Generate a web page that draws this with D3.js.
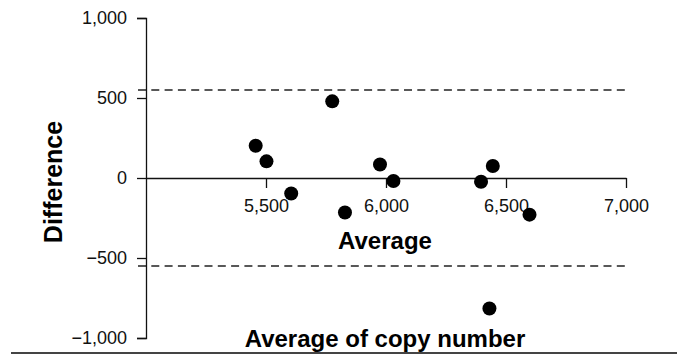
<!DOCTYPE html>
<html>
<head>
<meta charset="utf-8">
<script src="https://cdn.jsdelivr.net/npm/d3@7"></script>
<style>
  body { margin: 0; background: #fff; }
  svg { display: block; font-family: "Liberation Sans", Arial, Helvetica, sans-serif; }
</style>
</head>
<body>
<svg id="chart" width="690" height="356"></svg>
<script>
// Bland-Altman style data: average vs difference of copy number
const averages = [5457, 5502, 5605, 5776, 5829, 5975, 6031, 6396, 6445, 6598, 6431];
const differences = [202, 104, -97, 479, -216, 84, -19, -23, 75, -229, -816];
const limits = [550, -550];
const xTicks = [5500, 6000, 6500, 7000];
const yTicks = [-1000, -500, 0, 500, 1000];

const svg = d3.select("#chart");

const x = d3.scaleLinear().domain([5000, 7000]).range([146, 626]);
const y = d3.scaleLinear().domain([-1000, 1000]).range([338, 18]);

// dashed limits of agreement
svg.append("g")
    .selectAll("line")
    .data(limits)
    .join("line")
    .attr("x1", x(5000) - 8)
    .attr("x2", x(7000))
    .attr("y1", d => y(d))
    .attr("y2", d => y(d))
    .attr("stroke", "#222")
    .attr("stroke-width", 1.3)
    .attr("stroke-dasharray", "8,5.3");

// y axis
const yAxis = svg.append("g")
    .attr("transform", `translate(${x(5000)},0)`)
    .call(d3.axisLeft(y)
        .tickValues(yTicks)
        .tickSize(9)
        .tickPadding(10)
        .tickFormat(d3.format(",")));

// x axis sits on zero
const xAxis = svg.append("g")
    .attr("transform", `translate(0,${y(0)})`)
    .call(d3.axisBottom(x)
        .tickValues(xTicks)
        .tickSize(10)
        .tickSizeOuter(0)
        .tickPadding(11)
        .tickFormat(d3.format(",")));

[yAxis, xAxis].forEach(ax => {
    ax.selectAll("path, line").attr("stroke", "#111").attr("stroke-width", 1.3);
    ax.selectAll("text")
        .attr("font-size", 18)
        .attr("font-family", "'Liberation Sans', Arial, sans-serif")
        .attr("fill", "#111");
});
// use a real minus sign like the reference
yAxis.selectAll("text").text(d => d3.format(",")(d).replace("-", "\u2212"));

// points
svg.append("g")
    .selectAll("circle")
    .data(averages.map((a, i) => [a, differences[i]]))
    .join("circle")
    .attr("cx", d => x(d[0]))
    .attr("cy", d => y(d[1]))
    .attr("r", 7)
    .attr("fill", "#000");

// titles
svg.append("text")
    .attr("transform", "translate(62,182) rotate(-90)")
    .attr("text-anchor", "middle")
    .attr("font-size", 25)
    .attr("font-weight", "bold")
    .text("Difference");

svg.append("text")
    .attr("x", 385)
    .attr("y", 249)
    .attr("text-anchor", "middle")
    .attr("font-size", 24)
    .attr("font-weight", "bold")
    .text("Average");

svg.append("text")
    .attr("x", 385)
    .attr("y", 347)
    .attr("text-anchor", "middle")
    .attr("font-size", 24)
    .attr("font-weight", "bold")
    .text("Average of copy number");

// rule under the chart
svg.append("line")
    .attr("x1", 11)
    .attr("x2", 677)
    .attr("y1", 353)
    .attr("y2", 353)
    .attr("stroke", "#444")
    .attr("stroke-width", 2);
</script>
</body>
</html>
